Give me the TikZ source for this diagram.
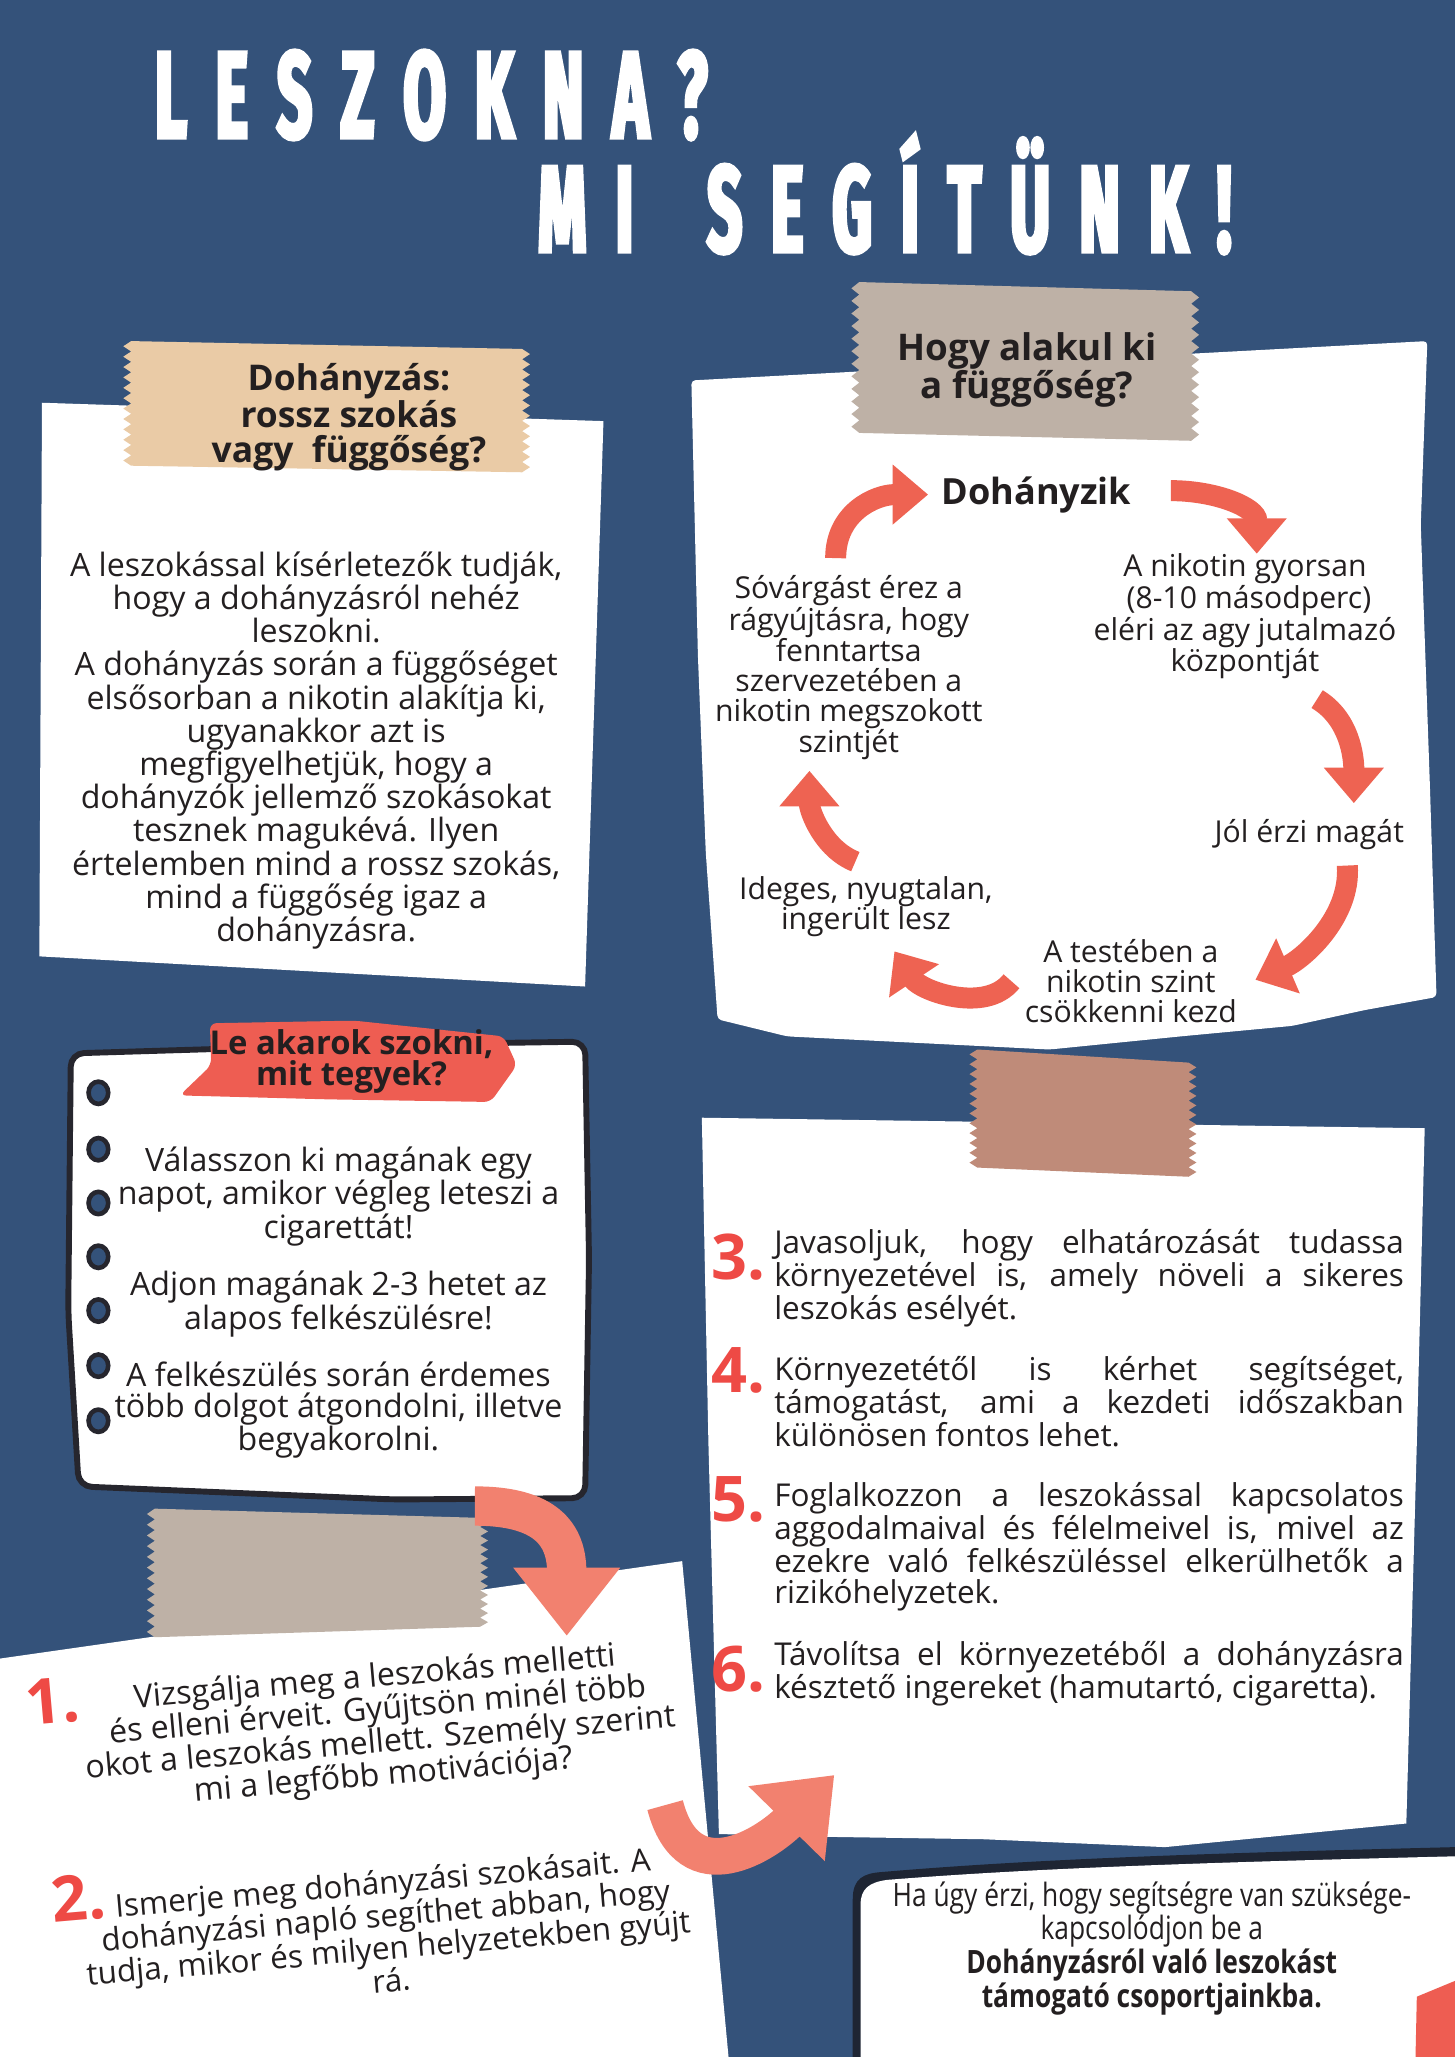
\documentclass[tikz,border=0pt]{standalone}
\usepackage{fontspec}
\setmainfont{Open Sans}
\newfontfamily\titlefont{Fira Sans}[FakeStretch=0.5,FakeBold=3]
\newfontfamily\condfont{Open Sans}[FakeStretch=0.82]
\usetikzlibrary{arrows.meta,calc}
\definecolor{bg}{HTML}{34527A}
\definecolor{txt}{HTML}{231F20}
\definecolor{cyc}{HTML}{EE6352}
\definecolor{salmon}{HTML}{F2816F}
\definecolor{tan}{HTML}{EACBA6}
\definecolor{tapegray}{HTML}{BEB1A6}
\definecolor{tapebrown}{HTML}{BF8B79}
\definecolor{redtape}{HTML}{EE5D52}
\definecolor{numred}{HTML}{EE4A45}
\definecolor{outline}{HTML}{26262E}
\definecolor{shadowc}{HTML}{1E2533}
\hyphenpenalty=10000
\exhyphenpenalty=10000
\tolerance=9999
\emergencystretch=30pt
\newcommand\tsp{\kern22pt}
\newcommand\mytape[7]{%
  \fill[#1] (#2,#3) -- (#5,#6)
    \foreach \k in {1,...,23}{ -- ({#5+6*mod(\k,2)},{#6+(#7-#6)*\k/24}) }
    -- (#5,#7) -- (#2,#4)
    \foreach \k in {1,...,23}{ -- ({#2-6*mod(\k,2)},{#4+(#3-#4)*\k/24}) }
    -- cycle;}
\begin{document}
\begin{tikzpicture}[x=1pt,y=-1pt,
  body/.style={inner sep=0pt, align=center, text=txt, font=\fontsize{24.5}{25.3}\selectfont},
  cyctext/.style={inner sep=0pt, align=center, text=txt, font=\fontsize{23}{23}\selectfont},
  head/.style={inner sep=0pt, align=center, text=txt, font=\fontsize{27}{27}\selectfont\bfseries},
  num/.style={inner sep=0pt, text=numred, font=\fontsize{48}{48}\selectfont\bfseries},
  para/.style={inner sep=0pt, anchor=north west, text width=480pt, align=justify, text=txt, font=\fontsize{24}{23.6}\selectfont},
  cycarrow/.style={draw=cyc, line width=16pt, -{Triangle[length=27pt,width=44pt]}},
  bigarrow/.style={draw=salmon, line width=30pt, -{Triangle[length=52pt,width=78pt]}},
  paper/.style={fill=white},
  titletext/.style={inner sep=0pt, anchor=base west, text=white, font=\titlefont\bfseries\fontsize{94}{94}\selectfont},
]
\useasboundingbox (0,0) rectangle (1109,1568);
\fill[bg] (0,0) rectangle (1109,1568);

% title
\node[titletext] (title1) at (118,105) {L\tsp E\tsp S\tsp Z\tsp O\tsp K\tsp N\tsp A\tsp ?};
\node[titletext] (title2) at (410,192) {M\tsp I\tsp\tsp\kern12pt S\tsp E\tsp G\tsp Í\tsp T\tsp Ü\tsp N\tsp K\tsp !};

% card 1
\fill[paper] (32,307) -- (460,321) -- (446,752) -- (30,729) -- cycle;
\mytape{tan}{100}{260}{355}{398}{266}{360}
\node[head] (t1) at (266,318) {Dohányzás:\\rossz szokás\\vagy \ függőség?};
\node[body] (b1) at (241,572) {A leszokással kísérletezők tudják,\\hogy a dohányzásról nehéz\\leszokni.\\A dohányzás során a függőséget\\elsősorban a nikotin alakítja ki,\\ugyanakkor azt is\\megfigyelhetjük, hogy a\\dohányzók jellemző szokásokat\\tesznek magukévá. Ilyen\\értelemben mind a rossz szokás,\\mind a függőség igaz a\\dohányzásra.};

% card 2
\fill[paper, rounded corners=3] (527,290) -- (1088,260) -- (1083,400) -- (1090,600) -- (1095,760) -- (1040,770) -- (985,782) -- (900,790) -- (800,800) -- (700,795) -- (600,790) -- (547,777) -- (538,650) -- (532,500) -- cycle;
\mytape{tapegray}{655}{215}{330}{908}{222}{336}
\node[head, font=\fontsize{28}{29}\selectfont\bfseries] (t2) at (783,282) {Hogy alakul ki\\a függőség?};

\node[head, font=\fontsize{27.5}{28}\selectfont\bfseries] (doh) at (790,377) {Dohányzik};
\node[cyctext] (nik) at (949,470) {A nikotin gyorsan\\\ (8-10 másodperc)\\eléri az agy jutalmazó\\központját};
\node[cyctext] (jol) at (998,636) {Jól érzi magát};
\node[cyctext] (tes) at (862,748) {A testében a\\nikotin szint\\csökkenni kezd};
\node[cyctext] (ide) at (660,691) {Ideges, nyugtalan,\\ingerült lesz};
\node[cyctext, font=\fontsize{23}{22.6}\selectfont] (sov) at (647,509) {Sóvárgást érez a\\rágyújtásra, hogy\\fenntartsa\\szervezetében a\\nikotin megszokott\\szintjét};

\draw[cycarrow] ($(sov.north)+(-10,-13)$) .. controls +(0,-35) and +(-40,0) .. ($(doh.west)+(-10,0)$);
\draw[cycarrow] ($(doh.east)+(30,-3)$) .. controls +(35,0) and +(0,-35) .. ($(nik.north)+(9,0)$);
\draw[cycarrow] ($(nik.south)+(55,15)$) .. controls +(25,15) and +(0,-35) .. ($(jol.north)+(34,-12)$);
\draw[cycarrow] ($(jol.south)+(29,12)$) .. controls +(3,40) and +(35,-15) .. ($(tes.north east)+(14,31)$);
\draw[cycarrow] ($(tes.west)+(-10,0)$) .. controls +(-20,25) and +(20,30) .. ($(ide.south east)+(-75,11)$);
\draw[cycarrow] ($(ide.north)+(-8,-11)$) .. controls +(-25,-10) and +(0,30) .. ($(sov.south)+(-30,8)$);

% card 5
\fill[paper] (535,852) -- (1086,860) -- (1080,1100) -- (1072,1390) -- (990,1398) -- (888,1408) -- (750,1402) -- (620,1400) -- (548,1398) -- (540,1100) -- cycle;
\mytape{tapebrown}{745}{800}{890}{906}{810}{897}
\node[num] (n3) at (563,958) {3.};
\node[num] (n4) at (563,1045) {4.};
\node[num] (n5) at (563,1143) {5.};
\node[num] (n6) at (563,1272) {6.};
\node[para] (p3) at (590,937) {Javasoljuk, hogy elhatározását tudassa\linebreak környezetével is, amely növeli a sikeres\linebreak leszokás esélyét.};
\node[para] (p4) at (590,1034) {Környezetétől is kérhet segítséget,\linebreak támogatást, ami a kezdeti időszakban\linebreak különösen fontos lehet.};
\node[para] (p5) at (590,1130) {Foglalkozzon a leszokással kapcsolatos\linebreak aggodalmaival és félelmeivel is, mivel az\linebreak ezekre való felkészüléssel elkerülhetők a\linebreak rizikóhelyzetek.};
\node[para] (p6) at (590,1251) {Távolítsa el környezetéből a dohányzásra\linebreak késztető ingereket (hamutartó, cigaretta).};

% card 3
\filldraw[fill=white, draw=outline, line width=4.5pt, rounded corners=10] (54,803) -- (250,797) -- (446,794) -- (449,960) -- (446,1142) -- (300,1143) -- (60,1133) -- (52,1000) -- cycle;
\fill[redtape, rounded corners=5] (160,780) -- (270,778) -- (384,790) -- (394,812) -- (374,840) -- (250,838) -- (137,835) -- (161,812) -- cycle;
\node[head, font=\fontsize{25}{24}\selectfont\bfseries] (t3) at (268,809) {Le akarok szokni,\\mit tegyek?};
\foreach \yy in {833,876,917,958,999,1041,1083}{
  \filldraw[fill=bg, draw=outline, line width=3.5pt] (75,\yy) ellipse [x radius=7.5, y radius=8.5];
}
\node[body, font=\fontsize{24.5}{23.5}\selectfont] (c3a) at (258,912) {Válasszon ki magának egy\\napot, amikor végleg leteszi a\\cigarettát!};
\node[body, font=\fontsize{24.5}{23.5}\selectfont] (c3b) at (258,994) {Adjon magának 2-3 hetet az\\alapos felkészülésre!};
\node[body, font=\fontsize{24.5}{23.5}\selectfont] (c3c) at (258,1075) {A felkészülés során érdemes\\több dolgot átgondolni, illetve\\begyakorolni.};

% card 4
\fill[paper] (-5,1265) -- (520,1190) -- (556,1575) -- (-5,1575) -- cycle;
\mytape{tapegray}{118}{1150}{1248}{366}{1157}{1240}
\node[num, rotate=5] (n1) at (40,1297) {1.};
\node[num, rotate=5] (n2) at (60,1447) {2.};
\node[body, rotate=5, font=\fontsize{24.5}{25}\selectfont] (c4a) at (289,1317) {Vizsgálja meg a leszokás melletti\\és elleni érveit. Gyűjtsön minél több\\okot a leszokás mellett. Személy szerint\\mi a legfőbb motivációja?};
\node[body, rotate=5, font=\fontsize{24}{25}\selectfont] (c4b) at (295,1472) {Ismerje meg dohányzási szokásait. A\\dohányzási napló segíthet abban, hogy\\tudja, mikor és milyen helyzetekben gyújt\\rá.};

% arrows between cards
\coordinate (sa1s) at (362,1148);
\coordinate (sa1e) at (432,1247);
\draw[bigarrow] (sa1s) .. controls (410,1148) and (432,1165) .. (sa1e);
\coordinate (sa2s) at (507,1376);
\coordinate (sa2e) at (636,1353);
\draw[bigarrow, line width=28pt] (sa2s) .. controls (525,1445) and (585,1405) .. (sa2e);

% card 6
\fill[shadowc] (650,1568) -- (650,1448) .. controls (650,1432) and (658,1428) .. (672,1427) .. controls (800,1416) and (950,1412) .. (1109,1408) -- (1109,1568) -- cycle;
\fill[paper] (656,1568) -- (656,1452) .. controls (656,1440) and (662,1435) .. (676,1433) .. controls (800,1423) and (950,1419) .. (1109,1415) -- (1109,1568) -- cycle;
\node[inner sep=0pt, align=center, text=txt, font=\condfont\fontsize{24.5}{20}\selectfont] (c6) at (878,1485) {Ha úgy érzi, hogy segítségre van szüksége-\\kapcsolódjon be a\\{\bfseries Dohányzásról való leszokást}\\{\bfseries támogató csoportjainkba.}};
\fill[redtape] (1080,1522) -- (1109,1510) -- (1109,1568) -- (1079,1568) -- cycle;
\end{tikzpicture}
\end{document}
